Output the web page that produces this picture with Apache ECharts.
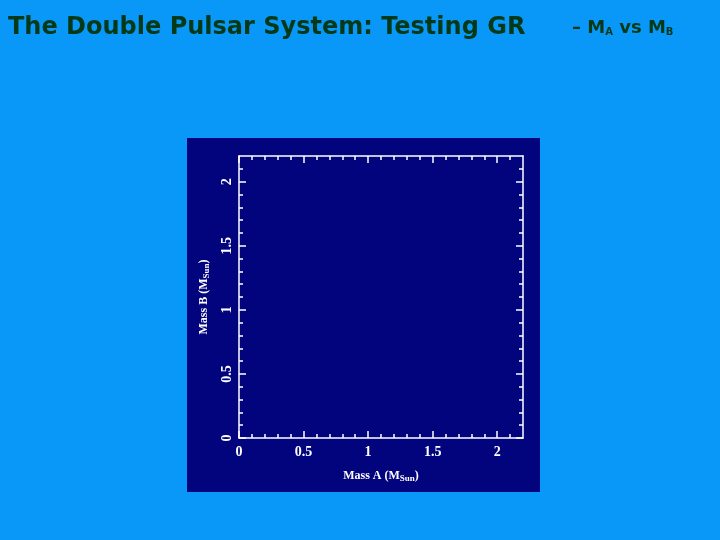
<!DOCTYPE html>
<html>
<head>
<meta charset="utf-8">
<style>
html,body{margin:0;padding:0;background:#0a98f8;}
#chart{width:720px;height:540px;}
</style>
<script src="https://cdn.jsdelivr.net/npm/echarts@6/dist/echarts.min.js"></script>
</head>
<body>
<div id="chart"></div>
<script>
// Data (the plot is empty in the reference: no points drawn)
var massA = [];
var massB = [];
var xMajorTicks = [0, 0.5, 1, 1.5, 2];
var yMajorTicks = [0, 0.5, 1, 1.5, 2];
var xMinorTicks = [0.1, 0.2, 0.3, 0.4, 0.6, 0.7, 0.8, 0.9, 1.1, 1.2, 1.3, 1.4, 1.6, 1.7, 1.8, 1.9, 2.1];
var yMinorTicks = [0.1, 0.2, 0.3, 0.4, 0.6, 0.7, 0.8, 0.9, 1.1, 1.2, 1.3, 1.4, 1.6, 1.7, 1.8, 1.9, 2.1];
var xLabels = ['0', '0.5', '1', '1.5', '2'];
var yLabels = ['0', '0.5', '1', '1.5', '2'];
var axisMin = 0, axisMax = 2.2;

var chart = echarts.init(document.getElementById('chart'), null, {renderer: 'canvas'});
var white = '#ffffff';
var gridRect = {left: 239, right: 197, top: 156, bottom: 102};
var labelFont = {color: white, fontFamily: 'Liberation Serif', fontWeight: 'bold', fontSize: 14};
var nameRich = {
  n: {color: white, fontFamily: 'Liberation Serif', fontWeight: 'bold', fontSize: 12},
  s: {color: white, fontFamily: 'Liberation Serif', fontWeight: 'bold', fontSize: 9, verticalAlign: 'bottom', padding: [6, 0, 0, 0]}
};
function fmtLabel(list, ticks) {
  return function (v) {
    for (var i = 0; i < ticks.length; i++) if (Math.abs(ticks[i] - v) < 1e-6) return list[i];
    return '';
  };
}
function mkAxis(kind, gridIndex, position, major, withLabel) {
  var isX = kind === 'x';
  var a = {
    type: 'value', gridIndex: gridIndex, position: position,
    min: axisMin, max: axisMax,
    axisLine: {show: !major, onZero: false, lineStyle: {color: white, width: 1.5}},
    axisTick: {show: true, inside: true, length: major ? 7 : 4,
      lineStyle: {color: white, width: 1.5},
      customValues: major ? (isX ? xMajorTicks : yMajorTicks) : (isX ? xMinorTicks : yMinorTicks)},
    splitLine: {show: false},
    axisLabel: {show: false}
  };
  if (withLabel) {
    a.axisLabel = Object.assign({show: true, margin: isX ? 7 : 5,
      customValues: isX ? xMajorTicks : yMajorTicks,
      formatter: fmtLabel(isX ? xLabels : yLabels, isX ? xMajorTicks : yMajorTicks),
      rotate: isX ? 0 : 90}, labelFont);
    a.name = isX ? '{n|Mass A (M}{s|Sun}{n|)}' : '{n|Mass B (M}{s|Sun}{n|)}';
    a.nameLocation = 'middle';
    a.nameGap = isX ? 30 : 28;
    a.nameTextStyle = {rich: nameRich};
  }
  return a;
}

var option = {
  backgroundColor: '#0a98f8',
  animation: false,
  graphic: [
    {type: 'rect', z: -10, shape: {x: 187, y: 138, width: 353, height: 354}, style: {fill: '#02047e'}},
    {type: 'text', left: 8, top: 16, z: 10, style: {
      text: 'The Double Pulsar System: Testing GR', fill: '#023a18',
      font: 'bold 24px "DejaVu Sans"'}},
    {type: 'text', left: 572, top: 19, z: 10, style: {
      text: '{t|– M}{s|A}{t| vs M}{s|B}', fill: '#023a18',
      rich: {
        t: {fill: '#023a18', fontFamily: 'DejaVu Sans', fontWeight: 'bold', fontSize: 18},
        s: {fill: '#023a18', fontFamily: 'DejaVu Sans', fontWeight: 'bold', fontSize: 10, verticalAlign: 'bottom', padding: [9, 0, 0, 0]}
      }}}
  ],
  grid: [
    Object.assign({containLabel: false}, gridRect),
    Object.assign({containLabel: false}, gridRect)
  ],
  xAxis: [
    mkAxis('x', 0, 'bottom', false, true),
    mkAxis('x', 0, 'top', false, false),
    mkAxis('x', 1, 'bottom', true, false),
    mkAxis('x', 1, 'top', true, false)
  ],
  yAxis: [
    mkAxis('y', 0, 'left', false, true),
    mkAxis('y', 0, 'right', false, false),
    mkAxis('y', 1, 'left', true, false),
    mkAxis('y', 1, 'right', true, false)
  ],
  series: [{
    type: 'scatter', xAxisIndex: 0, yAxisIndex: 0,
    data: massA.map(function (a, i) { return [a, massB[i]]; }),
    symbolSize: 3, itemStyle: {color: white}
  }]
};
chart.setOption(option);
</script>
</body>
</html>
